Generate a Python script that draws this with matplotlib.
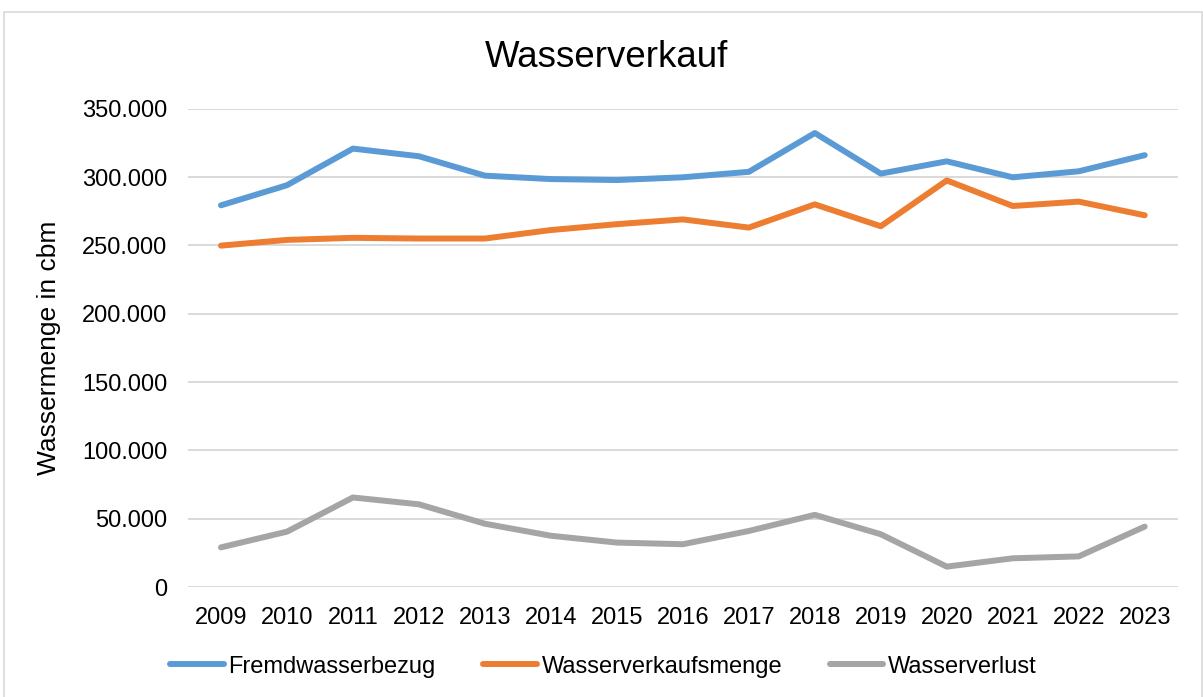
import matplotlib
matplotlib.use("Agg")
import matplotlib.pyplot as plt
from matplotlib.ticker import FuncFormatter, MultipleLocator
from matplotlib.patches import Rectangle

years = ["2009", "2010", "2011", "2012", "2013", "2014", "2015", "2016",
         "2017", "2018", "2019", "2020", "2021", "2022", "2023"]
fremdwasserbezug = [279300, 294000, 320800, 315200, 301000, 298500, 297800, 299800,
                    303800, 332200, 302500, 311500, 299800, 304200, 316000]
wasserverkaufsmenge = [249800, 254000, 255500, 255000, 255000, 261200, 265500, 269000,
                       263000, 280000, 264000, 297500, 278800, 282000, 272000]
wasserverlust = [29000, 40500, 65500, 60500, 46300, 37500, 32500, 31300,
                 41000, 52800, 38600, 14900, 21000, 22400, 44200]

series_names = ["Fremdwasserbezug", "Wasserverkaufsmenge", "Wasserverlust"]
colors = ["#5B9BD5", "#ED7D31", "#A5A5A5"]

plt.rcParams['font.family'] = ['Liberation Sans', 'DejaVu Sans']

W, H = 1203, 697
fig = plt.figure(figsize=(W / 100, H / 100), dpi=100)

# chart border
fig.patches.append(Rectangle((4 / W, -0.1), (1202 - 4) / W, 1 - 12 / H + 0.1,
                             transform=fig.transFigure, fill=False,
                             edgecolor="#D9D9D9", linewidth=1.2))

ax = fig.add_axes([188 / W, 1 - 587 / H, (1177.7 - 188) / W, (587 - 108.7) / H])

x = list(range(len(years)))
for vals, name, c in zip([fremdwasserbezug, wasserverkaufsmenge, wasserverlust],
                         series_names, colors):
    ax.plot(x, vals, color=c, linewidth=4.3, solid_capstyle='round',
            solid_joinstyle='round', label=name)

ax.set_xlim(-0.5, len(years) - 0.5)
ax.set_ylim(0, 350000)
ax.yaxis.set_major_locator(MultipleLocator(50000))


def fmt(v, pos):
    if v == 0:
        return "0"
    return f"{int(round(v)):,}".replace(",", ".")


ax.yaxis.set_major_formatter(FuncFormatter(fmt))
ax.set_xticks(x)
ax.set_xticklabels(years)
ax.grid(axis='y', color="#D9D9D9", linewidth=1.4)
ax.set_axisbelow(True)
for s in ax.spines.values():
    s.set_visible(False)
ax.tick_params(axis='both', length=0, labelsize=17, colors="black")
ax.tick_params(axis='y', pad=15)
ax.tick_params(axis='x', pad=14.5)

fig.text(49 / W, 1 - 348 / H, "Wassermenge in cbm", rotation=90,
         ha='center', va='center', fontsize=19)
fig.text(607 / W, 1 - 66.7 / H, "Wasserverkauf", ha='center', va='baseline',
         fontsize=26.4)

handles, labels = ax.get_legend_handles_labels()
fig.legend(handles, labels, loc='center', bbox_to_anchor=(603.4 / W, 1 - 666.7 / H),
           ncol=3, frameon=False, fontsize=17, handlelength=2.28,
           handletextpad=0.21, columnspacing=2.0, borderpad=0.2)

fig.savefig("out.png", dpi=100)
